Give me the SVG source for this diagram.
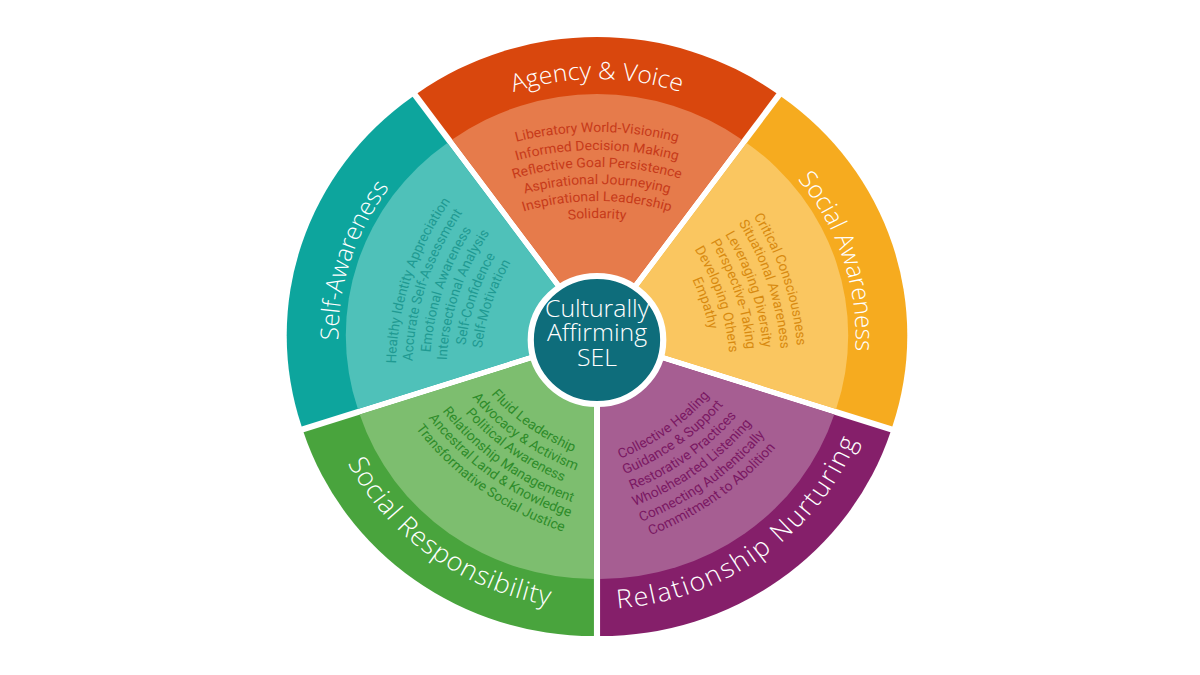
<svg xmlns="http://www.w3.org/2000/svg" width="1200" height="675" viewBox="0 0 1200 675">
<style>
.list{font-family:Roboto,"Liberation Sans",sans-serif;font-size:13.5px;text-anchor:middle}
.lbl{font-family:"Open Sans","Liberation Sans",sans-serif;font-weight:300;font-size:24px;fill:#ffffff;text-anchor:middle}
.lbl2{font-family:"Open Sans","Liberation Sans",sans-serif;font-weight:300;font-size:26px;fill:#ffffff;text-anchor:middle}
.ctr{font-family:"Open Sans","Liberation Sans",sans-serif;font-weight:300;font-size:24px;fill:#ffffff;text-anchor:middle}
</style>
<defs>
<path id="wo" d="M0,0 L-173.4,-238.7 A295,295 0 0 1 173.4,-238.7 Z"/>
<path id="wi" d="M0,0 L-139.9,-192.5 A238,238 0 0 1 139.9,-192.5 Z"/>
<path id="lu" d="M-216.5,-125 A250,250 0 0 1 216.5,-125"/>
<path id="la" d="M-223.4,-129 A258,258 0 0 1 223.4,-129"/>
<path id="ld" d="M-235.6,136 A272,272 0 0 0 235.6,136"/>
<path id="a1" d="M-157.5,-162.8 A315,315 0 0 1 157.5,-162.8"/>
<path id="a2" d="M-148.5,-147.2 A297,297 0 0 1 148.5,-147.2"/>
<path id="a3" d="M-140,-132.5 A280,280 0 0 1 140,-132.5"/>
<path id="a4" d="M-131.5,-117.8 A263,263 0 0 1 131.5,-117.8"/>
<path id="a5" d="M-123,-103 A246,246 0 0 1 123,-103"/>
<path id="a6" d="M-114.5,-88.3 A229,229 0 0 1 114.5,-88.3"/>
<path id="s1" d="M-149.5,-148.9 A299,299 0 0 1 149.5,-148.9"/>
<path id="s2" d="M-141.5,-135.1 A283,283 0 0 1 141.5,-135.1"/>
<path id="s3" d="M-133,-120.4 A266,266 0 0 1 133,-120.4"/>
<path id="s4" d="M-125,-106.5 A250,250 0 0 1 125,-106.5"/>
<path id="s5" d="M-116.5,-91.8 A233,233 0 0 1 116.5,-91.8"/>
<path id="s6" d="M-108.5,-77.9 A217,217 0 0 1 108.5,-77.9"/>
<path id="r1" d="M-114,87.4 A228,228 0 0 0 114,87.4"/>
<path id="r2" d="M-122,101.3 A244,244 0 0 0 122,101.3"/>
<path id="r3" d="M-130.5,116 A261,261 0 0 0 130.5,116"/>
<path id="r4" d="M-138.5,129.9 A277,277 0 0 0 138.5,129.9"/>
<path id="r5" d="M-147,144.6 A294,294 0 0 0 147,144.6"/>
<path id="r6" d="M-155,158.5 A310,310 0 0 0 155,158.5"/>
<path id="p1" d="M-111,82.3 A222,222 0 0 0 111,82.3"/>
<path id="p2" d="M-119,96.1 A238,238 0 0 0 119,96.1"/>
<path id="p3" d="M-126.5,109.1 A253,253 0 0 0 126.5,109.1"/>
<path id="p4" d="M-134.5,123 A269,269 0 0 0 134.5,123"/>
<path id="p5" d="M-142,135.9 A284,284 0 0 0 142,135.9"/>
<path id="p6" d="M-150,149.8 A300,300 0 0 0 150,149.8"/>
</defs>
<rect x="0" y="0" width="1200" height="675" fill="#ffffff"/>
<g transform="translate(597 337) scale(1.035 1)">
  <g id="agency-voice">
    <g transform="translate(0 -5)"><use href="#wo" fill="#D9470D"/><use href="#wi" fill="#E67B4B"/></g>
    <text class="lbl"><textPath href="#la" startOffset="50%">Agency &amp; Voice</textPath></text>
    <g class="list" fill="#C73A1A">
      <text><textPath href="#a1" startOffset="50%">Liberatory World-Visioning</textPath></text>
      <text><textPath href="#a2" startOffset="50%">Informed Decision Making</textPath></text>
      <text><textPath href="#a3" startOffset="50%">Reflective Goal Persistence</textPath></text>
      <text><textPath href="#a4" startOffset="50%">Aspirational Journeying</textPath></text>
      <text><textPath href="#a5" startOffset="50%">Inspirational Leadership</textPath></text>
      <text><textPath href="#a6" startOffset="50%">Solidarity</textPath></text>
    </g>
  </g>
  <g id="social-awareness" transform="rotate(72)">
    <g transform="translate(0 -5)"><use href="#wo" fill="#F6AB1F"/><use href="#wi" fill="#FAC660"/></g>
    <text class="lbl"><textPath href="#lu" startOffset="50%">Social Awareness</textPath></text>
    <g class="list" fill="#D88A10">
      <text><textPath href="#s1" startOffset="50%">Critical Consciousness</textPath></text>
      <text><textPath href="#s2" startOffset="50%">Situational Awareness</textPath></text>
      <text><textPath href="#s3" startOffset="50%">Leveraging Diversity</textPath></text>
      <text><textPath href="#s4" startOffset="50%">Perspective-Taking</textPath></text>
      <text><textPath href="#s5" startOffset="50%">Developing Others</textPath></text>
      <text><textPath href="#s6" startOffset="50%">Empathy</textPath></text>
    </g>
  </g>
  <g id="relationship-nurturing">
    <g transform="rotate(144) translate(0 -5)"><use href="#wo" fill="#851F6A"/><use href="#wi" fill="#A65E92"/></g>
    <g transform="rotate(-36)">
      <text class="lbl2" letter-spacing="1.8"><textPath href="#ld" startOffset="50%">Relationship Nurturing</textPath></text>
      <g class="list" fill="#7A1863">
        <text><textPath href="#r1" startOffset="50%">Collective Healing</textPath></text>
        <text><textPath href="#r2" startOffset="50%">Guidance &amp; Support</textPath></text>
        <text><textPath href="#r3" startOffset="50%">Restorative Practices</textPath></text>
        <text><textPath href="#r4" startOffset="50%">Wholehearted Listening</textPath></text>
        <text><textPath href="#r5" startOffset="50%">Connecting Authentically</textPath></text>
        <text><textPath href="#r6" startOffset="50%">Commitment to Abolition</textPath></text>
      </g>
    </g>
  </g>
  <g id="social-responsibility">
    <g transform="rotate(216) translate(0 -5)"><use href="#wo" fill="#49A43D"/><use href="#wi" fill="#7DBE6F"/></g>
    <g transform="rotate(36)">
      <text class="lbl2" letter-spacing="0.8"><textPath href="#ld" startOffset="50%">Social Responsibility</textPath></text>
      <g class="list" fill="#2E8C2A">
        <text><textPath href="#p1" startOffset="50%">Fluid Leadership</textPath></text>
        <text><textPath href="#p2" startOffset="50%">Advocacy &amp; Activism</textPath></text>
        <text><textPath href="#p3" startOffset="50%">Political Awareness</textPath></text>
        <text><textPath href="#p4" startOffset="50%">Relationship Management</textPath></text>
        <text><textPath href="#p5" startOffset="50%">Ancestral Land &amp; Knowledge</textPath></text>
        <text><textPath href="#p6" startOffset="50%">Transformative Social Justice</textPath></text>
      </g>
    </g>
  </g>
  <g id="self-awareness" transform="rotate(-72)">
    <g transform="translate(0 -5)"><use href="#wo" fill="#0DA59D"/><use href="#wi" fill="#4FC1B9"/></g>
    <text class="lbl"><textPath href="#lu" startOffset="50%">Self-Awareness</textPath></text>
    <g class="list" fill="#1F9A92">
      <text><textPath href="#s1" startOffset="50%">Healthy Identity Appreciation</textPath></text>
      <text><textPath href="#s2" startOffset="50%">Accurate Self-Assessment</textPath></text>
      <text><textPath href="#s3" startOffset="50%">Emotional Awareness</textPath></text>
      <text><textPath href="#s4" startOffset="50%">Intersectional Analysis</textPath></text>
      <text><textPath href="#s5" startOffset="50%">Self-Confidence</textPath></text>
      <text><textPath href="#s6" startOffset="50%">Self-Motivation</textPath></text>
    </g>
  </g>
  <g id="center">
    <circle cx="0" cy="3" r="64" fill="#0E6D7B" stroke="#ffffff" stroke-width="6"/>
    <text class="ctr" x="0" y="-20">Culturally</text>
    <text class="ctr" x="0" y="4">Affirming</text>
    <text class="ctr" x="0" y="29">SEL</text>
  </g>
</g>
</svg>
